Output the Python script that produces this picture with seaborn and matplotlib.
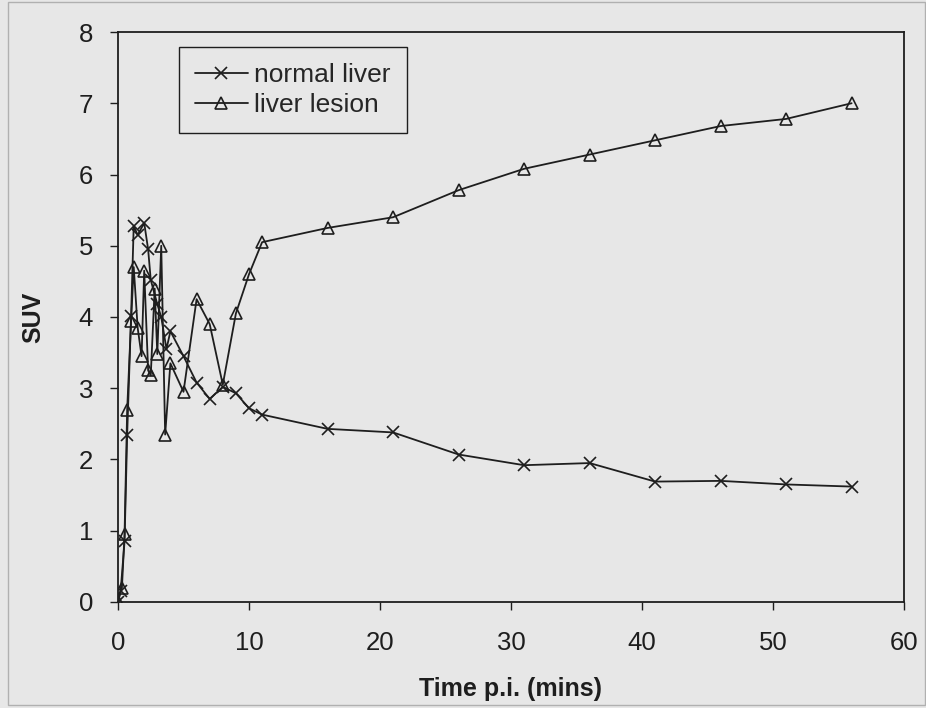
import matplotlib
matplotlib.use("Agg")
import matplotlib.pyplot as plt
from matplotlib.patches import Rectangle
import seaborn as sns
import pandas as pd

# Data
normal_time = [0, 0.2, 0.5, 0.7, 1.0, 1.2, 1.5, 2.0, 2.3, 2.5, 3.0, 3.3, 3.7, 4, 5, 6, 7, 8, 9, 10, 11,
               16, 21, 26, 31, 36, 41, 46, 51, 56]
normal_suv = [0.0, 0.15, 0.85, 2.35, 4.02, 5.28, 5.15, 5.32, 4.95, 4.52, 4.18, 4.0, 3.55, 3.8, 3.45, 3.08,
              2.85, 3.02, 2.93, 2.72, 2.63, 2.43, 2.38, 2.07, 1.92, 1.95, 1.69, 1.70, 1.65, 1.62]

lesion_time = [0, 0.3, 0.5, 0.7, 1.0, 1.2, 1.5, 1.8, 2.0, 2.3, 2.5, 2.8, 3.0, 3.3, 3.6, 4, 5, 6, 7, 8, 9,
               10, 11, 16, 21, 26, 31, 36, 41, 46, 51, 56]
lesion_suv = [0.02, 0.2, 0.95, 2.7, 3.95, 4.7, 3.85, 3.45, 4.65, 3.25, 3.18, 4.4, 3.48, 5.0, 2.35, 3.35,
              2.95, 4.25, 3.9, 3.05, 4.05, 4.6, 5.05, 5.25, 5.4, 5.78, 6.08, 6.28, 6.48, 6.68, 6.78, 7.0]

series_names = ["normal liver", "liver lesion"]
x_ticks = [0, 10, 20, 30, 40, 50, 60]
y_ticks = [0, 1, 2, 3, 4, 5, 6, 7, 8]

bg = "#e7e7e7"
ink = "#1e1e1e"

sns.set_theme(style="ticks")
plt.rcParams["font.family"] = ["Liberation Sans", "DejaVu Sans"]

fig = plt.figure(figsize=(9.26, 7.08), dpi=100, facecolor=bg)
ax = fig.add_axes([0.12743, 0.14972, 0.84881, 0.80508])
ax.set_facecolor(bg)

# faint outer frame of the scanned figure
fig.patches.append(Rectangle((8 / 926, 3 / 708), 917 / 926, 703 / 708, transform=fig.transFigure,
                             fill=False, edgecolor="#b0b0b0", linewidth=1.0))

df_n = pd.DataFrame({"t": normal_time, "suv": normal_suv})
df_l = pd.DataFrame({"t": lesion_time, "suv": lesion_suv})

sns.lineplot(data=df_n, x="t", y="suv", ax=ax, sort=False, color=ink, linewidth=1.3,
             marker="x", markersize=8, markeredgewidth=1.2, markeredgecolor=ink,
             label=series_names[0])
sns.lineplot(data=df_l, x="t", y="suv", ax=ax, sort=False, color=ink, linewidth=1.3,
             marker="^", markersize=8, markerfacecolor="none", markeredgewidth=1.2,
             markeredgecolor=ink, label=series_names[1])

ax.set_xlim(0, 60)
ax.set_ylim(0, 8)
ax.set_xticks(x_ticks)
ax.set_yticks(y_ticks)
ax.tick_params(axis="both", direction="out", length=6, width=1, colors=ink, labelsize=18.5,
               labelcolor=ink)
ax.tick_params(axis="y", pad=12)
ax.tick_params(axis="x", pad=15)
for s in ax.spines.values():
    s.set_color(ink)
    s.set_linewidth(1.3)
    s.set_visible(True)

ax.set_xlabel("Time p.i. (mins)", fontsize=18, fontweight="bold", color=ink, labelpad=16)
ax.set_ylabel("SUV", fontsize=18, fontweight="bold", color=ink, labelpad=24)

leg = ax.legend(loc="upper left", bbox_to_anchor=(0.0776, 0.9737), borderaxespad=0, fontsize=19,
                frameon=True, fancybox=False, edgecolor=ink, facecolor=bg, framealpha=1,
                handlelength=2.0, handletextpad=0.25, borderpad=0.6, labelspacing=0.25)
leg.get_frame().set_linewidth(1.0)

fig.savefig("out.png", dpi=100, facecolor=bg)
